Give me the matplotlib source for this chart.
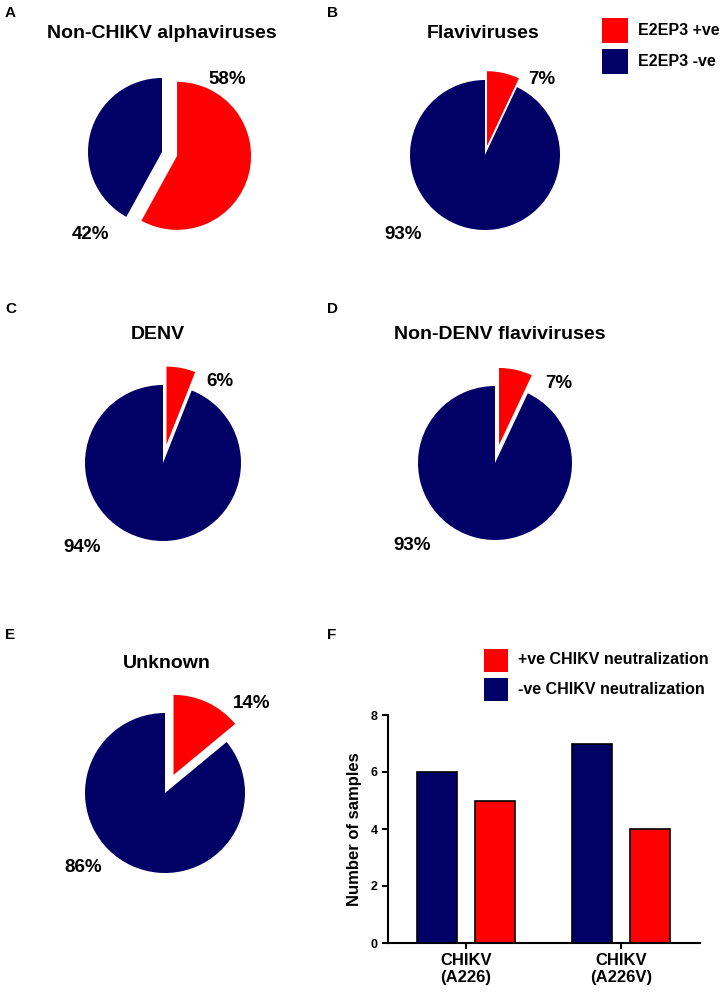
import matplotlib
matplotlib.use("Agg")
import matplotlib.pyplot as plt
from matplotlib.patches import Rectangle

plt.rcParams['font.family'] = ['Liberation Sans', 'DejaVu Sans']
plt.rcParams['font.weight'] = 'bold'

RED = '#ff0000'
BLUE = '#000066'
W, H = 728, 994

# pie data: percent of E2EP3 +ve / -ve in each group
pie_titles = ["Non-CHIKV alphaviruses", "Flaviviruses", "DENV",
              "Non-DENV flaviviruses", "Unknown"]
pos_pct = [58, 7, 6, 7, 14]
neg_pct = [42, 93, 94, 93, 86]
legend_pie = ["E2EP3 +ve", "E2EP3 -ve"]

# bar data
bar_groups = ["CHIKV\n(A226)", "CHIKV\n(A226V)"]
neg_neut = [6, 7]
pos_neut = [5, 4]
legend_bar = ["+ve CHIKV neutralization", "-ve CHIKV neutralization"]
y_ticks = [0, 2, 4, 6, 8]


def fx(x):
    return x / W


def fy(y):
    return 1 - y / H


def legend_box(fig, x0, ys, size, colors, labels):
    # square keys + labels, positions in pixels
    for y, c, lab in zip(ys, colors, labels):
        fig.add_artist(Rectangle((fx(x0), fy(y + size[1] / 2)), size[0] / W,
                                 size[1] / H, transform=fig.transFigure,
                                 facecolor=c, edgecolor='none'))
        fig.text(fx(x0 + size[0] + 10), fy(y), lab, ha='left', va='center',
                 fontsize=11.5, fontweight='bold')


fig = plt.figure(figsize=(7.28, 9.94), dpi=100)

# layout in pixels: pie centre, radius, explode, title, label spots
pie_layout = [
    dict(c=(162, 152), r=74, ex=0.21, t=(162, 33), lp=(227, 80), ln=(90, 235)),
    dict(c=(485, 155), r=75, ex=0.12, t=(483, 33), lp=(542, 80), ln=(403, 235)),
    dict(c=(163, 463), r=78, ex=0.24, t=(158, 335), lp=(220, 382), ln=(82, 547)),
    dict(c=(495, 463), r=77, ex=0.24, t=(500, 335), lp=(559, 383), ln=(412, 546)),
    dict(c=(165, 793), r=80, ex=0.25, t=(167, 663), lp=(252, 703), ln=(83, 867)),
]

for i, lay in enumerate(pie_layout):
    cx, cy = lay['c']
    r = lay['r']
    L = 1.5
    ax = fig.add_axes([fx(cx - L * r), fy(cy + L * r), 2 * L * r / W, 2 * L * r / H])
    ax.pie([pos_pct[i], neg_pct[i]], colors=[RED, BLUE],
           startangle=90, counterclock=False, radius=1,
           explode=[lay['ex'], 0], center=(0, 0))
    ax.set_xlim(-L, L)
    ax.set_ylim(-L, L)
    ax.set_aspect('equal')
    ax.axis('off')
    fig.text(fx(lay['t'][0]), fy(lay['t'][1]), pie_titles[i], ha='center',
             va='center', fontsize=14, fontweight='bold')
    fig.text(fx(lay['lp'][0]), fy(lay['lp'][1]), f"{pos_pct[i]}%", ha='center',
             va='center', fontsize=13.5, fontweight='bold')
    fig.text(fx(lay['ln'][0]), fy(lay['ln'][1]), f"{neg_pct[i]}%", ha='center',
             va='center', fontsize=13.5, fontweight='bold')

# panel letters
for letter, (lx, ly) in zip("ABCDEF", [(5, 13), (327, 13), (5, 309), (327, 309),
                                       (5, 635), (327, 635)]):
    fig.text(fx(lx), fy(ly), letter, ha='left', va='center', fontsize=11,
             fontweight='bold')

legend_box(fig, 602, [30.5, 61], (26, 25), [RED, BLUE], legend_pie)

# bar chart panel F
axb = fig.add_axes([fx(388), fy(943), (700 - 388) / W, (943 - 715) / H])
xs = list(range(len(bar_groups)))
off = 0.187
bw = 0.258
axb.bar([x - off for x in xs], neg_neut, width=bw, color=BLUE,
        edgecolor='black', linewidth=1.2)
axb.bar([x + off for x in xs], pos_neut, width=bw, color=RED,
        edgecolor='black', linewidth=1.2)
axb.set_xlim(-0.503, 1.51)
axb.set_ylim(0, 8)
axb.set_yticks(y_ticks)
axb.set_xticks(xs)
axb.set_xticklabels(bar_groups, fontsize=12, fontweight='bold', linespacing=1.15)
axb.tick_params(axis='y', labelsize=9, width=1.5, length=4.5, pad=3)
axb.tick_params(axis='x', width=1.5, length=4, pad=3)
for lab in axb.get_yticklabels():
    lab.set_fontweight('bold')
axb.spines['top'].set_visible(False)
axb.spines['right'].set_visible(False)
axb.spines['left'].set_linewidth(1.5)
axb.spines['bottom'].set_linewidth(1.5)
axb.set_ylabel("Number of samples", fontsize=12, fontweight='bold', labelpad=6)

legend_box(fig, 484, [660, 689], (24, 23), [RED, BLUE], legend_bar)

fig.savefig("out.png", dpi=100)
